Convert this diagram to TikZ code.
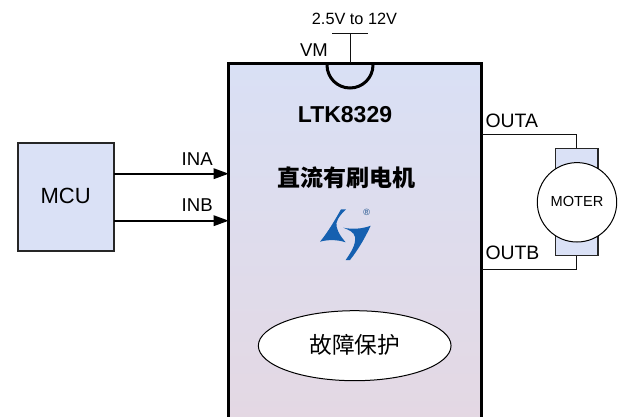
\documentclass[tikz,border=0pt]{standalone}
\usepackage{fontspec}
\setmainfont{Liberation Sans}
\newfontfamily\cjk{Noto Sans CJK SC}
\usetikzlibrary{shapes.geometric,arrows.meta}
\definecolor{boxblue}{HTML}{DAE1F6}
\definecolor{chiptop}{HTML}{D9E0F5}
\definecolor{chipbot}{HTML}{E4D8E3}
\definecolor{logoblue}{HTML}{1560B0}
\definecolor{linecol}{HTML}{111111}
\tikzset{
  x=1pt,y=-1pt,
  every node/.style={outer sep=0pt},
  thinwire/.style={draw=linecol,line width=1pt},
  sigwire/.style={draw=black,line width=1.6pt,-{Triangle[length=15pt,width=10.5pt]}},
  lab/.style={inner sep=0pt,text=black},
  fs/.style={font=\fontsize{#1}{#1}\selectfont},
}
\begin{document}
\begin{tikzpicture}
\useasboundingbox (0,0) rectangle (619,416);
\clip (0,0) rectangle (619,416);
% chip (runs off the bottom of the page)
\node[draw=black,line width=3pt,top color=chiptop,bottom color=chipbot,minimum width=252.8pt,minimum height=360pt,inner sep=0pt,anchor=north west] (chip) at (228.7,63) {};
% supply
\coordinate (vmbarl) at (332.3,33.7);
\coordinate (vmbarr) at (368.3,33.7);
\coordinate (vmtop) at (350.5,33.7);
\draw[thinwire] (vmbarl) -- (vmbarr);
\draw[thinwire] (vmtop) -- (vmtop |- chip.north);
\coordinate (notch) at (327,63);
\draw[line width=3pt,black] (notch) -- ++(0,2) arc[start angle=180,end angle=0,x radius=23pt,y radius=-23pt] -- ++(0,-2);
% MCU
\node[draw=black!85,line width=2.2pt,fill=boxblue,minimum width=96.6pt,minimum height=107.7pt,inner sep=0pt,anchor=north west] (mcu) at (17.7,143.3) {};
\node[lab,fs=22] (mculab) at (65.7,196) {MCU};
\coordinate (ina) at (114.3,173.7);
\coordinate (inb) at (114.3,220.7);
\draw[sigwire] (ina) -- (ina -| chip.west);
\draw[sigwire] (inb) -- (inb -| chip.west);
% motor
\node[draw=black!85,line width=1.2pt,fill=boxblue,minimum width=42.3pt,minimum height=107.4pt,inner sep=0pt,anchor=north west] (brush) at (555.7,148.3) {};
\node[circle,draw=black,line width=1pt,fill=white,minimum size=79.4pt,inner sep=0pt] (motor) at (577,202.3) {};
\node[lab,fs=14.6] (motorlab) at (577,201.7) {MOTER};
\coordinate (outa) at (481.5,134);
\coordinate (outb) at (481.5,269.3);
\draw[thinwire] (outa) -| (brush.north);
\draw[thinwire] (outb) -| (brush.south);
% labels
\node[lab,fs=16.3] (vrange) at (354.5,19) {2.5V to 12V};
\node[lab,fs=18.5] (vm) at (314,50) {VM};
\node[lab,fs=18.6] (lina) at (197.2,159.4) {INA};
\node[lab,fs=18.6] (linb) at (197.2,205) {INB};
\node[lab,fs=19.4,anchor=west] (louta) at (485.5,121) {OUTA};
\node[lab,fs=19.4,anchor=west] (loutb) at (485.5,252.5) {OUTB};
\node[lab,fs=23] (part) at (345,115) {\textbf{LTK8329}};
\node[lab,fs=23] (title) at (346,178) {\cjk\bfseries 直流有刷电机};
% logo
\fill[logoblue] (341,209.3) -- (346,209.3) .. controls (339,216) and (335,222) .. (336.7,227) .. controls (338,233) and (342,238) .. (345.7,242.3) .. controls (337,239.5) and (328,239.5) .. (320,241.7) .. controls (328,232) and (335,220) .. (341,209.3) -- cycle;
\fill[logoblue] (343.3,227.7) .. controls (352,229.5) and (362,229) .. (370.7,225.7) .. controls (365,238) and (358,250) .. (350,260) -- (345.7,260) .. controls (351,252) and (356,245) .. (355,237) .. controls (354,232) and (349,230) .. (343.3,227.7) -- cycle;
\node[lab,fs=9,text=logoblue!75!black] (reg) at (366.7,212.3) {®};
% protection
\node[ellipse,draw=black,line width=1pt,fill=white,minimum width=192.7pt,minimum height=70pt,inner sep=0pt] (prot) at (354.7,345.7) {};
\node[lab,fs=22.7] (protlab) at (354.7,345) {\cjk 故障保护};
\end{tikzpicture}
\end{document}
